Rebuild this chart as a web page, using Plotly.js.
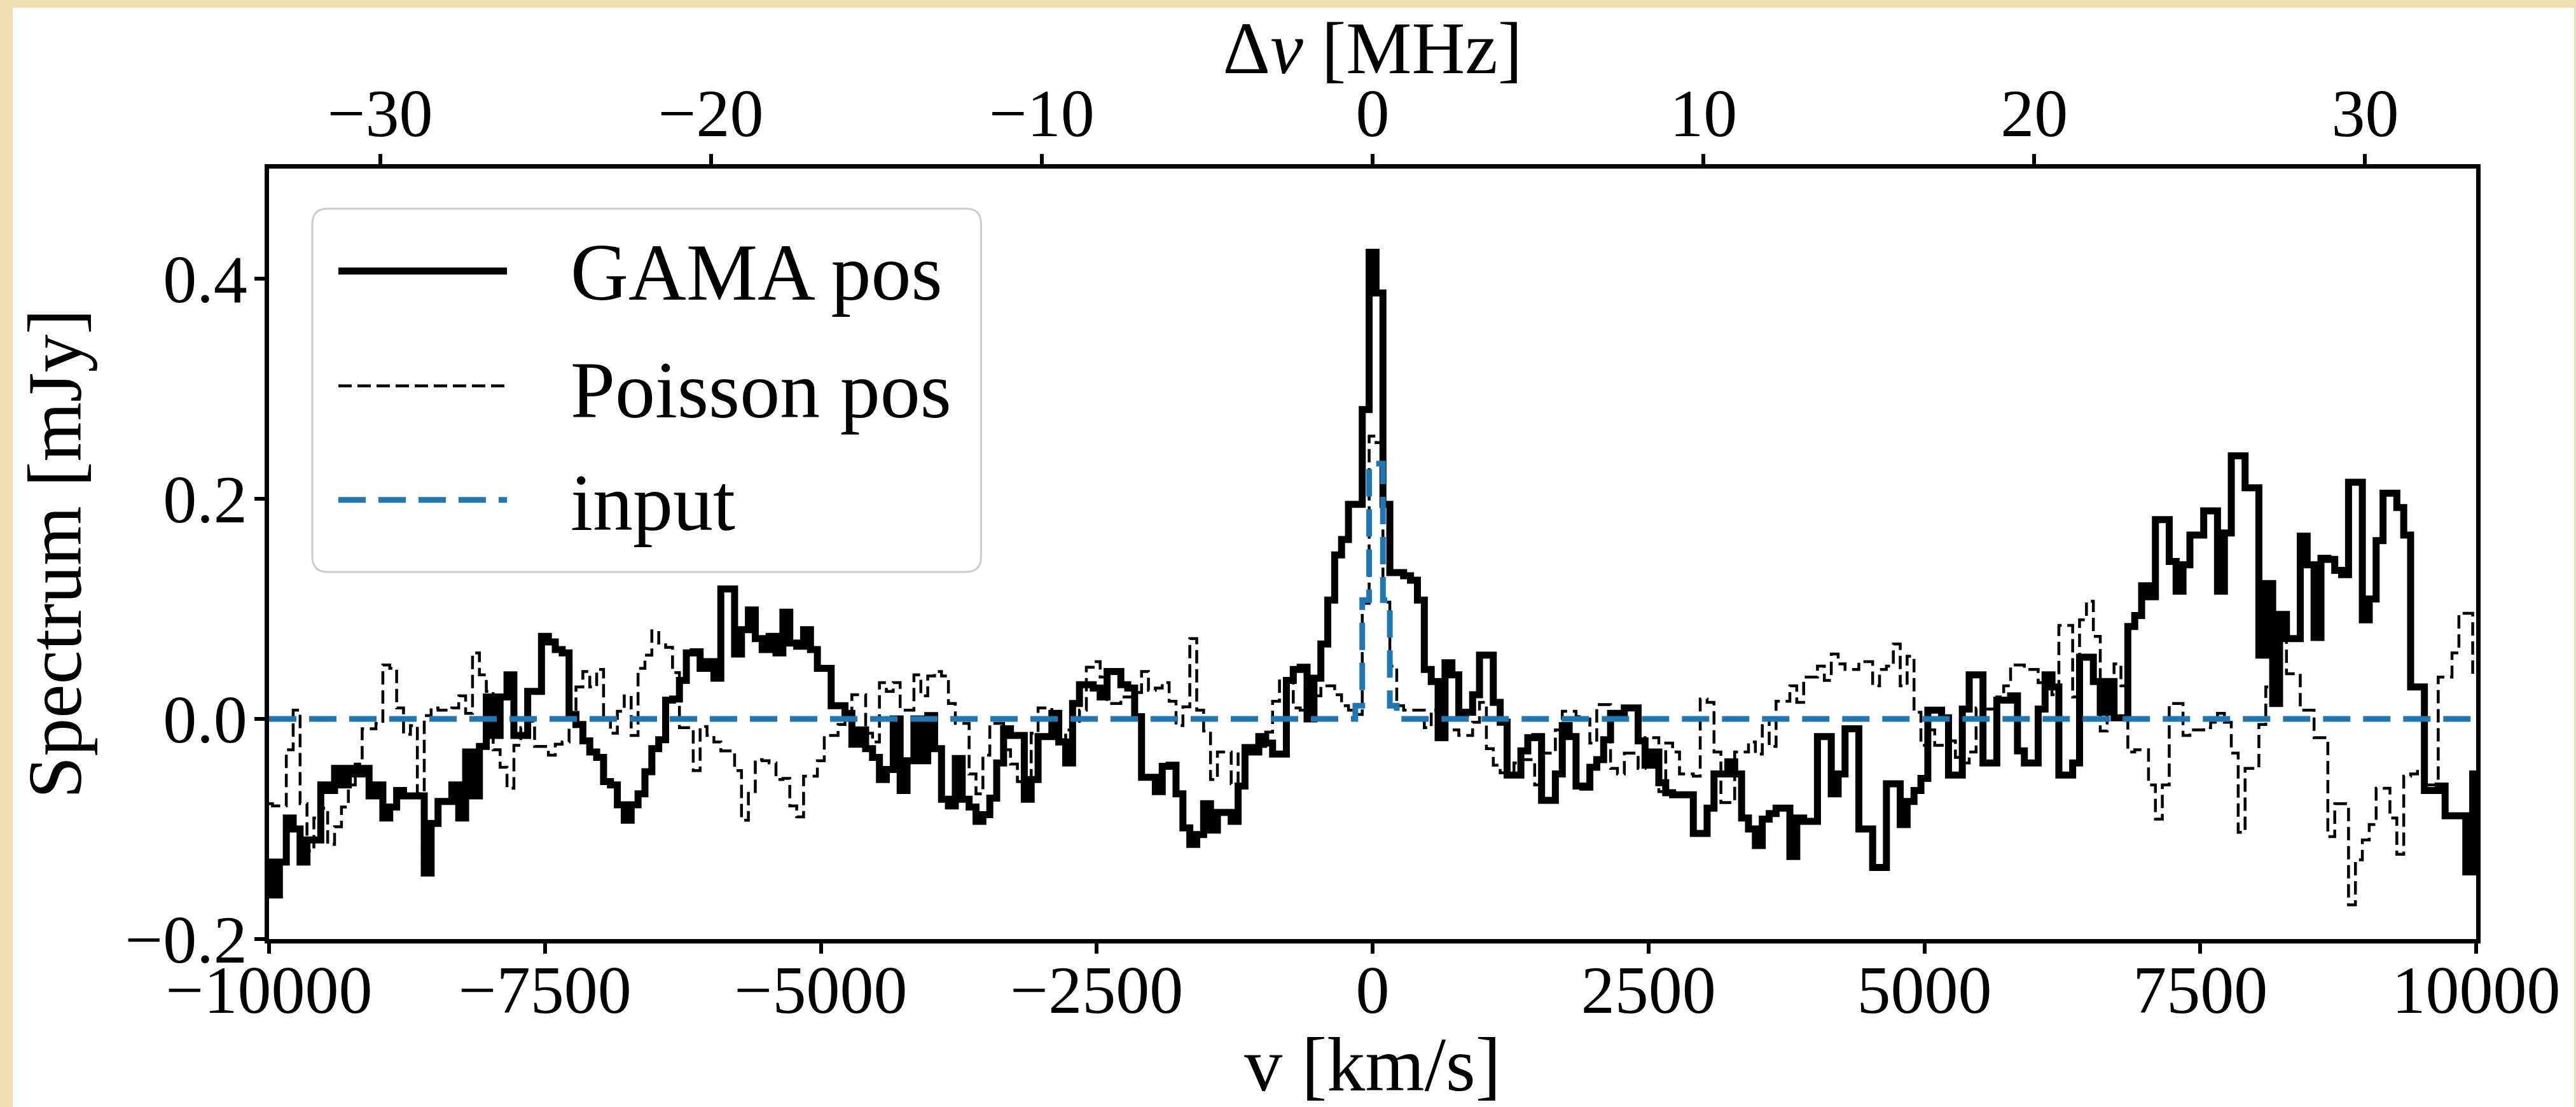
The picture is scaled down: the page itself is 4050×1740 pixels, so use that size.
<!DOCTYPE html>
<html>
<head>
<meta charset="utf-8">
<script src="https://cdn.plot.ly/plotly-3.0.1.min.js"></script>
<style>
  html, body { margin: 0; padding: 0; background: #EEDFB0; width: 4050px; height: 1740px; overflow: hidden; }
  #chart { position: absolute; left: 20px; top: 12px; width: 4027px; height: 1728px; background: #ffffff; }
</style>
</head>
<body>
<div id="chart"></div>
<script>
// Channel grid (km/s): 321 channels, 62.5 km/s apart, from -10000 to +10000
const velocityStart = -10000;
const channelWidth = 62.5;

// Stacked spectrum at GAMA positions (mJy)
const gamaPos = [
-0.13,-0.16,-0.13,-0.09,-0.10,-0.13,-0.11,-0.11,-0.06,-0.065,
-0.045,-0.06,-0.045,-0.05,-0.045,-0.07,-0.06,-0.09,-0.08,-0.065,
-0.07,-0.07,-0.07,-0.14,-0.095,-0.075,-0.075,-0.06,-0.09,-0.03,
-0.07,-0.025,0.02,-0.015,0.02,0.04,-0.015,-0.015,0.025,0.025,
0.075,0.07,0.063,0.06,0.004,-0.005,-0.02,-0.03,-0.035,-0.057,
-0.06,-0.078,-0.092,-0.078,-0.068,-0.048,-0.027,-0.019,0.017,0.018,
0.035,0.06,0.061,0.046,0.052,0.037,0.118,0.118,0.059,0.081,
0.099,0.073,0.063,0.075,0.06,0.097,0.069,0.066,0.081,0.063,
0.046,0.046,0.012,0.012,0.005,-0.023,-0.01,-0.027,-0.035,-0.055,
-0.046,0.0,-0.065,-0.038,0.0,-0.038,0.003,-0.027,-0.073,-0.079,
-0.036,-0.073,-0.08,-0.093,-0.087,-0.072,-0.04,-0.009,-0.015,-0.015,
-0.073,-0.055,-0.016,-0.016,0.005,-0.021,-0.04,0.014,0.031,0.031,
0.028,0.02,0.043,0.043,0.031,0.028,0.002,-0.053,-0.053,-0.066,
-0.043,-0.042,-0.068,-0.099,-0.114,-0.105,-0.077,-0.101,-0.085,-0.085,
-0.093,-0.061,-0.026,-0.03,-0.016,-0.022,-0.032,-0.032,0.035,0.045,
0.047,0.0,0.037,0.068,0.108,0.149,0.163,0.195,0.195,0.281,
0.424,0.387,0.195,0.133,0.133,0.13,0.126,0.108,0.045,0.034,
-0.017,0.051,0.04,0.005,0.006,0.022,0.058,0.058,0.015,-0.003,
-0.051,-0.051,-0.029,-0.017,-0.016,-0.074,-0.074,-0.05,-0.006,-0.016,
-0.061,-0.062,-0.044,-0.037,-0.019,0.005,0.005,0.01,0.01,-0.02,
-0.042,-0.03,-0.058,-0.067,-0.069,-0.069,-0.069,-0.104,-0.104,-0.081,
-0.05,-0.05,-0.039,-0.05,-0.09,-0.1,-0.115,-0.091,-0.086,-0.081,
-0.081,-0.125,-0.09,-0.093,-0.093,-0.016,-0.016,-0.068,-0.05,-0.009,
-0.009,-0.1,-0.1,-0.135,-0.135,-0.059,-0.059,-0.096,-0.075,-0.065,
-0.054,0.008,0.008,0.001,-0.051,-0.051,0.009,0.04,0.04,-0.04,
-0.04,0.017,0.017,0.021,-0.029,-0.04,-0.04,0.009,0.04,0.029,
-0.051,-0.051,-0.04,0.056,0.056,0.034,0.006,0.034,0.001,0.001,
0.084,0.094,0.121,0.111,0.181,0.181,0.143,0.116,0.14,0.167,
0.167,0.189,0.189,0.116,0.169,0.239,0.239,0.21,0.21,0.058,
0.123,0.014,0.095,0.073,0.073,0.166,0.14,0.074,0.146,0.145,
0.135,0.131,0.215,0.215,0.09,0.109,0.162,0.205,0.205,0.192,
0.167,0.029,0.029,-0.065,-0.065,-0.061,-0.088,-0.088,-0.088,-0.139,
-0.05
];

// Stacked spectrum at Poisson (random) positions (mJy)
const poissonPos = [
-0.077,-0.079,-0.079,-0.028,0.008,-0.077,-0.12,-0.09,-0.081,-0.114,
-0.098,-0.08,-0.06,-0.041,-0.009,-0.009,-0.004,0.049,0.046,0.01,
-0.014,-0.006,-0.068,0.003,0.01,0.008,0.008,0.01,0.021,0.005,
0.06,0.04,0.025,-0.028,-0.044,-0.063,-0.024,-0.008,-0.002,-0.025,
-0.025,-0.033,-0.023,-0.021,-0.007,0.029,0.043,0.029,0.045,0.0,
-0.013,0.007,0.021,-0.015,0.046,0.058,0.08,0.069,0.065,0.042,
-0.008,-0.008,-0.047,-0.007,-0.015,-0.021,-0.029,-0.029,-0.047,-0.092,
-0.066,-0.037,-0.038,-0.04,-0.055,-0.054,-0.079,-0.089,-0.052,-0.052,
-0.038,-0.015,-0.015,-0.005,0.0,0.022,0.022,-0.013,-0.021,0.033,
0.025,0.033,0.008,0.008,0.04,0.021,0.039,0.043,0.039,0.014,
-0.004,-0.004,-0.05,-0.068,-0.033,-0.004,-0.004,-0.028,-0.041,-0.057,
-0.057,-0.013,0.01,0.01,-0.004,-0.019,-0.01,-0.004,0.008,0.047,
0.052,0.038,0.014,0.014,0.02,0.02,0.024,0.043,0.026,0.028,
0.033,0.016,-0.006,0.011,0.073,0.008,-0.011,-0.055,-0.03,-0.03,
-0.059,-0.03,-0.03,-0.028,-0.025,-0.012,0.016,0.036,0.036,0.01,
0.008,0.012,0.021,0.03,0.03,0.022,0.012,0.008,0.004,0.105,
0.257,0.251,0.106,0.048,0.012,0.008,0.008,0.008,-0.008,0.008,
-0.008,-0.01,-0.01,-0.015,-0.015,-0.003,0.015,-0.027,-0.042,-0.049,
-0.05,-0.04,-0.037,-0.037,-0.06,-0.031,-0.031,-0.01,0.007,0.007,
0.002,0.0,-0.022,0.013,0.013,-0.045,-0.05,-0.031,-0.031,-0.045,
-0.017,-0.017,-0.066,-0.022,-0.03,-0.05,-0.05,-0.052,0.018,0.015,
-0.03,-0.076,-0.076,-0.03,-0.03,-0.021,-0.032,0.0,-0.025,0.016,
0.016,0.03,0.015,0.038,0.038,0.048,0.035,0.059,0.05,0.045,
0.045,0.052,0.052,0.03,0.045,0.048,0.068,0.03,0.057,0.006,
-0.024,-0.01,-0.024,-0.024,-0.02,-0.035,-0.04,-0.03,0.01,0.009,
0.009,0.02,0.03,0.049,0.049,0.045,0.045,0.033,0.033,0.022,
0.085,0.085,0.02,0.09,0.107,0.075,-0.011,0.01,0.05,0.03,
-0.03,-0.028,-0.028,-0.06,-0.091,-0.06,0.014,0.014,-0.015,-0.01,
-0.01,-0.008,-0.003,0.005,-0.003,-0.031,-0.103,-0.045,-0.045,-0.005,
0.029,0.029,0.075,0.041,0.041,0.008,0.008,-0.017,-0.017,-0.107,
-0.077,-0.077,-0.169,-0.128,-0.11,-0.096,-0.063,-0.063,-0.09,-0.123,
-0.052,-0.05,-0.045,-0.06,-0.06,0.038,0.038,0.06,0.096,0.096,
0.04
];

// Injected input line (mJy)
const inputModel = [
0,0,0,0,0,0,0,0,0,0, 0,0,0,0,0,0,0,0,0,0, 0,0,0,0,0,0,0,0,0,0, 0,0,0,0,0,0,0,0,0,0,
0,0,0,0,0,0,0,0,0,0, 0,0,0,0,0,0,0,0,0,0, 0,0,0,0,0,0,0,0,0,0, 0,0,0,0,0,0,0,0,0,0,
0,0,0,0,0,0,0,0,0,0, 0,0,0,0,0,0,0,0,0,0, 0,0,0,0,0,0,0,0,0,0, 0,0,0,0,0,0,0,0,0,0,
0,0,0,0,0,0,0,0,0,0, 0,0,0,0,0,0,0,0,0,0, 0,0,0,0,0,0,0,0,0,0, 0,0,0,0,0,0,0,0,
0.012,0.108,0.232,0.232,0.108,0.012,
0,0,0,0,0,0,0,0,0,0, 0,0,0,0,0,0,0,0,0,0, 0,0,0,0,0,0,0,0,0,0, 0,0,0,0,0,0,0,0,0,0,
0,0,0,0,0,0,0,0,0,0, 0,0,0,0,0,0,0,0,0,0, 0,0,0,0,0,0,0,0,0,0, 0,0,0,0,0,0,0,0,0,0,
0,0,0,0,0,0,0,0,0,0, 0,0,0,0,0,0,0,0,0,0, 0,0,0,0,0,0,0,0,0,0, 0,0,0,0,0,0,0,0,0,0,
0,0,0,0,0,0,0,0,0,0, 0,0,0,0,0,0,0,0,0,0, 0,0,0,0,0,0,0,0,0,0, 0,0,0,0,0,0,0,0,0,0,
0
];

// Axis ticks
const vTicks = [-10000, -7500, -5000, -2500, 0, 2500, 5000, 7500, 10000];
const vTickLabels = ['\u221210000', '\u22127500', '\u22125000', '\u22122500', '0', '2500', '5000', '7500', '10000'];
const nuTicks = [-30, -20, -10, 0, 10, 20, 30];
const nuTickLabels = ['\u221230', '\u221220', '\u221210', '0', '10', '20', '30'];
const specTicks = [-0.2, 0.0, 0.2, 0.4];
const specTickLabels = ['\u22120.2', '0.0', '0.2', '0.4'];
const vRange = [-10000, 10000];
const specRange = [-0.2, 0.5];
const cKms = 299792.458;
const nuRest = 1000; // MHz, sets the Δν scale of the top axis
const nuRange = vRange.map(v => v / cKms * nuRest);

const legendLabels = ['GAMA pos', 'Poisson pos', 'input'];

const velocity = gamaPos.map((_, i) => velocityStart + i * channelWidth);

const FONT = 'Liberation Serif, Times New Roman, serif';
const BLUE = '#1f77b4';

const traces = [
  { x: velocity, y: gamaPos, type: 'scatter', mode: 'lines', name: legendLabels[0],
    line: { shape: 'hvh', color: '#000000', width: 11 }, showlegend: false },
  { x: velocity, y: poissonPos, type: 'scatter', mode: 'lines', name: legendLabels[1],
    line: { shape: 'hvh', color: '#000000', width: 4.5, dash: '21px,9px' }, showlegend: false },
  { x: velocity, y: inputModel, type: 'scatter', mode: 'lines', name: legendLabels[2],
    line: { shape: 'hvh', color: BLUE, width: 9, dash: '43px,20px' }, showlegend: false },
  // carrier for the top frequency axis (no visible marks)
  { x: nuRange, y: [null, null], xaxis: 'x2', yaxis: 'y', type: 'scatter', mode: 'lines',
    showlegend: false, hoverinfo: 'skip', line: { width: 0 } }
];

// Legend box drawn matplotlib-style (rounded frame, long line samples)
const W = 3470, H = 1211;
const bx0 = 0.0196, bx1 = 0.3226, by0 = 0.4765, by1 = 0.948;
const rx = 24 / W, ry = 24 / H;
const boxPath = `M ${bx0+rx},${by1} L ${bx1-rx},${by1} Q ${bx1},${by1} ${bx1},${by1-ry} ` +
  `L ${bx1},${by0+ry} Q ${bx1},${by0} ${bx1-rx},${by0} L ${bx0+rx},${by0} ` +
  `Q ${bx0},${by0} ${bx0},${by0+ry} L ${bx0},${by1-ry} Q ${bx0},${by1} ${bx0+rx},${by1} Z`;

const rowY = [0.867, 0.718, 0.570];
const textY = [0.865, 0.712, 0.566];
const sampleX = [0.0314, 0.1078];
const textX = 0.136;

const shapes = [
  { type: 'path', xref: 'paper', yref: 'paper', path: boxPath,
    line: { color: '#cccccc', width: 3 }, fillcolor: 'rgba(255,255,255,0.8)', layer: 'above' },
  { type: 'line', xref: 'paper', yref: 'paper', x0: sampleX[0], x1: sampleX[1], y0: rowY[0], y1: rowY[0],
    line: { color: '#000000', width: 11 }, layer: 'above' },
  { type: 'line', xref: 'paper', yref: 'paper', x0: sampleX[0], x1: sampleX[1], y0: rowY[1], y1: rowY[1],
    line: { color: '#000000', width: 4.5, dash: '21px,9px' }, layer: 'above' },
  { type: 'line', xref: 'paper', yref: 'paper', x0: sampleX[0], x1: sampleX[1], y0: rowY[2], y1: rowY[2],
    line: { color: BLUE, width: 9, dash: '43px,20px' }, layer: 'above' }
];

const annotations = legendLabels.map((t, i) => ({
  text: t, xref: 'paper', yref: 'paper', x: textX, y: textY[i],
  xanchor: 'left', yanchor: 'middle', showarrow: false,
  font: { family: FONT, size: 126, color: '#000000' }
}));

const axisCommon = {
  showgrid: false, zeroline: false, showline: true, linecolor: '#000000', linewidth: 7,
  ticks: 'outside', ticklen: 16, tickwidth: 6, tickcolor: '#000000',
  tickfont: { family: FONT, size: 106, color: '#000000' }
};

const layout = {
  width: 4027, height: 1728,
  margin: { l: 403, r: 154, t: 253, b: 264, pad: 0 },
  paper_bgcolor: '#ffffff', plot_bgcolor: '#ffffff',
  showlegend: false,
  font: { family: FONT, color: '#000000' },
  xaxis: Object.assign({}, axisCommon, {
    range: vRange, tickmode: 'array', tickvals: vTicks, ticktext: vTickLabels,
    ticklabelstandoff: -34,
    title: { text: 'v [km/s]', font: { family: FONT, size: 120, color: '#000000' }, standoff: 64 },
    anchor: 'y', side: 'bottom'
  }),
  xaxis2: Object.assign({}, axisCommon, {
    range: nuRange, tickmode: 'array', tickvals: nuTicks, ticktext: nuTickLabels,
    overlaying: 'x', side: 'top', anchor: 'y', ticklabelstandoff: -14,
    title: { text: 'Δ<i>ν</i> [MHz]', font: { family: FONT, size: 116, color: '#000000' }, standoff: 34 }
  }),
  yaxis: Object.assign({}, axisCommon, {
    range: specRange, tickmode: 'array', tickvals: specTicks, ticktext: specTickLabels, mirror: true,
    ticklabelstandoff: -10,
    title: { text: 'Spectrum [mJy]', font: { family: FONT, size: 120, color: '#000000' }, standoff: 50 }
  }),
  shapes: shapes,
  annotations: annotations
};

Plotly.newPlot('chart', traces, layout, { staticPlot: true, displayModeBar: false });
</script>
</body>
</html>
